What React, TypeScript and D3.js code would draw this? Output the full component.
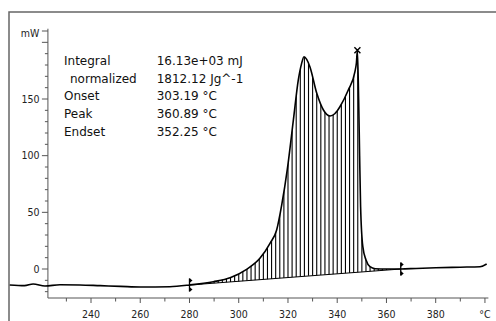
import React, { useEffect, useRef } from 'react';
import * as d3 from 'd3';

// DSC trace, temperature (°C) vs heat flow (mW)
const temps = [207, 213, 216.5, 221.3, 227.4, 235.5, 243.7, 252, 260, 272, 280, 289.7, 296.5, 303.2, 308.6, 312.7, 315.4, 317.5, 319.7, 322.2, 324.2, 325.5, 326.5, 327.6, 328.9, 331.7, 334.4, 337.1, 339, 341.1, 344.5, 347.2, 347.8, 348.2, 348.7, 349.1, 349.5, 350.4, 351.7, 353.3, 355.4, 360, 365.8, 372, 380, 390, 398, 400.7];
const power = [-14.1, -14.7, -13.2, -15.0, -13.9, -14.1, -14.7, -15.3, -15.9, -15.6, -14.1, -11.2, -7.7, -0.3, 9.4, 22.7, 34.4, 57, 87.4, 131.5, 166.8, 181, 187.3, 185, 178.5, 155, 140.3, 135, 137, 143.2, 157.9, 174.1, 182, 193, 150, 100, 55, 19.7, 7.9, 2.0, 0.2, 0, 0, 0.5, 1.1, 1.6, 2.0, 4.4];

// integration limits and peak marker
const limitTemps = [280, 365.8];
const limitPower = [-14.1, 0];
const peakTemp = 348.2;
const peakPower = 193;

const xTicks = [240, 260, 280, 300, 320, 340, 360, 380];
const yTicks = [0, 50, 100, 150];

const infoLabels = ['Integral', 'normalized', 'Onset', 'Peak', 'Endset'];
const infoValues = ['16.13e+03 mJ', '1812.12 Jg^-1', '303.19 °C', '360.89 °C', '352.25 °C'];

const tickFont = '"DejaVu Sans Condensed", "DejaVu Sans", sans-serif';
const textFont = '"DejaVu Sans", sans-serif';

const App = () => {
    const svgRef = useRef<SVGSVGElement>(null);

    useEffect(() => {
        const svg = d3.select(svgRef.current);
        svg.selectAll('*').remove();

        const width = 496;
        const height = 321;

        const x = d3.scaleLinear().domain([240, 380]).range([91, 435.7]);
        const y = d3.scaleLinear().domain([0, 150]).range([269, 99]);

        const axisColor = '#555';
        const data = temps.map((t, i) => ({ t, p: power[i] }));

        // frame
        svg.append('rect')
            .attr('x', 9)
            .attr('y', 12)
            .attr('width', width)
            .attr('height', height)
            .attr('fill', 'none')
            .attr('stroke', '#666')
            .attr('stroke-width', 1.5);

        // y axis
        const yMin = -25.6;
        const yMax = 212;
        const xAxisX = x(222.5);
        svg.append('line')
            .attr('x1', xAxisX).attr('x2', xAxisX)
            .attr('y1', y(yMax)).attr('y2', y(yMin))
            .attr('stroke', axisColor);

        d3.range(-20, 211, 10).forEach(v => {
            const major = v % 50 === 0 || v === 210;
            svg.append('line')
                .attr('x1', xAxisX - (major ? 6 : 3)).attr('x2', xAxisX)
                .attr('y1', y(v)).attr('y2', y(v))
                .attr('stroke', axisColor);
        });

        yTicks.forEach(v => {
            svg.append('text')
                .attr('x', xAxisX - 8.5)
                .attr('y', y(v))
                .attr('dy', '0.35em')
                .attr('text-anchor', 'end')
                .style('font-family', tickFont)
                .style('font-size', '10.5px')
                .attr('fill', '#222')
                .text(v);
        });

        svg.append('text')
            .attr('x', xAxisX - 8.5)
            .attr('y', y(210) + 2)
            .attr('dy', '0.35em')
            .attr('text-anchor', 'end')
            .style('font-family', tickFont)
            .style('font-size', '10.5px')
            .attr('fill', '#222')
            .text('mW');

        // x axis
        const axisY = y(yMin);
        svg.append('line')
            .attr('x1', xAxisX).attr('x2', x(401.4))
            .attr('y1', axisY).attr('y2', axisY)
            .attr('stroke', axisColor);

        d3.range(230, 401, 10).forEach(v => {
            const major = v % 20 === 0;
            svg.append('line')
                .attr('x1', x(v)).attr('x2', x(v))
                .attr('y1', axisY).attr('y2', axisY + (major ? 5 : 3.5))
                .attr('stroke', axisColor);
        });

        xTicks.forEach(v => {
            svg.append('text')
                .attr('x', x(v))
                .attr('y', axisY + 16)
                .attr('dy', '0.35em')
                .attr('text-anchor', 'middle')
                .style('font-family', tickFont)
                .style('font-size', '10.5px')
                .attr('fill', '#222')
                .text(v);
        });

        svg.append('text')
            .attr('x', x(400))
            .attr('y', axisY + 16)
            .attr('dy', '0.35em')
            .attr('text-anchor', 'middle')
            .style('font-family', tickFont)
            .style('font-size', '10.5px')
            .attr('fill', '#222')
            .text('°C');

        // integration baseline
        const base = d3.scaleLinear().domain(limitTemps).range(limitPower);

        // hatching, clipped to the area between curve and baseline
        const inside = data.filter(d => d.t >= limitTemps[0] && d.t <= limitTemps[1]);
        const area = d3.area<{ t: number; p: number }>()
            .x(d => x(d.t))
            .y0(d => y(base(d.t)))
            .y1(d => y(d.p))
            .curve(d3.curveMonotoneX);

        svg.append('clipPath')
            .attr('id', 'peak-clip')
            .append('path')
            .attr('d', area(inside));

        const hatch = svg.append('g').attr('clip-path', 'url(#peak-clip)');
        d3.range(limitTemps[0], limitTemps[1], 1.667).forEach(t => {
            hatch.append('line')
                .attr('x1', x(t)).attr('x2', x(t))
                .attr('y1', y(yMax)).attr('y2', axisY)
                .attr('stroke', '#000')
                .attr('stroke-width', 1.1);
        });

        svg.append('line')
            .attr('x1', x(limitTemps[0])).attr('x2', x(limitTemps[1]))
            .attr('y1', y(limitPower[0])).attr('y2', y(limitPower[1]))
            .attr('stroke', '#000')
            .attr('stroke-width', 1.2);

        // measured curve
        const line = d3.line<{ t: number; p: number }>()
            .x(d => x(d.t))
            .y(d => y(d.p))
            .curve(d3.curveMonotoneX);

        svg.append('path')
            .datum(data)
            .attr('d', line)
            .attr('fill', 'none')
            .attr('stroke', '#000')
            .attr('stroke-width', 1.6);

        // limit markers
        limitTemps.forEach((t, i) => {
            const cx = x(t);
            const cy = y(limitPower[i]);
            const g = svg.append('g');
            g.append('line')
                .attr('x1', cx).attr('x2', cx)
                .attr('y1', cy - 6.5).attr('y2', cy + 6.5)
                .attr('stroke', '#000')
                .attr('stroke-width', 1.3);
            [-1, 1].forEach(s => {
                const ty = cy + s * 4.5;
                g.append('path')
                    .attr('d', `M${cx},${ty - 2.5}L${cx + 3},${ty}L${cx},${ty + 2.5}Z`)
                    .attr('fill', '#000');
            });
        });

        // peak marker
        const px = x(peakTemp);
        const py = y(peakPower);
        svg.append('path')
            .attr('d', `M${px - 3},${py - 3}L${px + 3},${py + 3}M${px - 3},${py + 3}L${px + 3},${py - 3}`)
            .attr('stroke', '#000')
            .attr('stroke-width', 1.4);

        // result block
        const labelX = [64, 70, 64, 64, 64];
        infoLabels.forEach((label, i) => {
            svg.append('text')
                .attr('x', labelX[i])
                .attr('y', 65 + i * 17.7)
                .style('font-family', textFont)
                .style('font-size', '12px')
                .attr('fill', '#111')
                .text(label);
            svg.append('text')
                .attr('x', 156.7)
                .attr('y', 65 + i * 17.7)
                .style('font-family', textFont)
                .style('font-size', '12px')
                .attr('fill', '#111')
                .text(infoValues[i]);
        });
    }, []);

    return (
        <svg
            ref={svgRef}
            width={496}
            height={321}
            style={{ position: 'fixed', left: 0, top: 0, background: '#fff', display: 'block' }}
        />
    );
};

export default App;
